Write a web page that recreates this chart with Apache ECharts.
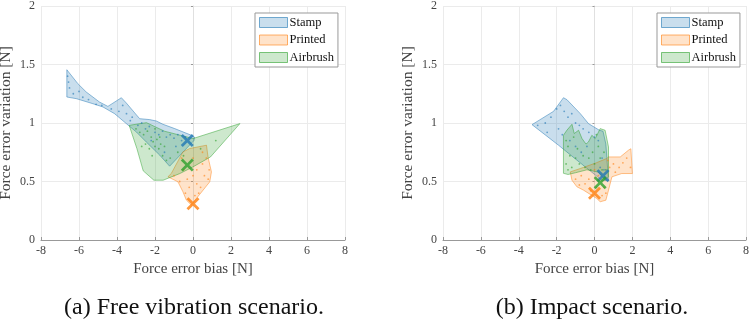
<!DOCTYPE html>
<html>
<head>
<meta charset="utf-8">
<script src="https://cdn.jsdelivr.net/npm/echarts@6/dist/echarts.min.js"></script>
<style>
  html, body { margin: 0; padding: 0; background: #fff; }
  #chart { width: 750px; height: 321px; }
</style>
</head>
<body>
<div id="chart"></div>
<script>
// axis ticks
var xTicks = [-8, -6, -4, -2, 0, 2, 4, 6, 8]
var yTicks = [0, 0.5, 1, 1.5, 2]
var groupNames = ['Stamp', 'Printed', 'Airbrush']

// (a) free vibration: hull outlines
var freeStampHull = [[-6.64, 1.455], [-6.06, 1.336], [-5.62, 1.265], [-4.92, 1.179], [-4.48, 1.142], [-3.77, 1.216],
  [-3.51, 1.171], [-2.81, 1.037], [-2.28, 1.029], [-1.93, 1.017], [-1.58, 0.989], [-0.96, 0.952], [-0.08, 0.895],
  [0.08, 0.88], [0.05, 0.85], [-1.23, 0.631], [-1.75, 0.725], [-2.46, 0.838], [-2.98, 0.923], [-3.51, 0.995],
  [-4.13, 1.08], [-4.74, 1.137], [-5.27, 1.165], [-6.14, 1.208], [-6.64, 1.222]]
var freePrintedHull = [[-1.14, 0.569], [-0.53, 0.753], [-0.17, 0.782], [0.71, 0.81], [0.79, 0.71], [0.97, 0.582],
  [0.88, 0.497], [0.53, 0.426], [0.18, 0.355], [-0.08, 0.298], [-0.35, 0.341], [-0.53, 0.412], [-0.79, 0.497],
  [-1.32, 0.54]]
var freeAirbrushHull = [[-3.36, 0.98], [-2.45, 1.003], [-1.5, 0.93], [0.0, 0.867], [2.47, 0.995], [0.92, 0.71],
  [0.0, 0.625], [-0.69, 0.568], [-1.57, 0.511], [-2.06, 0.511], [-2.62, 0.591], [-2.95, 0.78]]

// (a) free vibration: samples
var freeStampPts = [[-6.5, 1.3], [-6.3, 1.25], [-6.0, 1.27], [-5.8, 1.22], [-5.5, 1.2], [-5.1, 1.16], [-4.8, 1.15],
  [-4.3, 1.12], [-3.9, 1.1], [-3.7, 1.15], [-3.5, 1.08], [-3.3, 1.02], [-3.2, 1.05], [-2.9, 0.98], [-2.7, 1.0],
  [-2.5, 0.95], [-2.3, 0.97], [-2.0, 0.92], [-1.8, 0.9], [-1.6, 0.93], [-1.4, 0.88], [-1.2, 0.9], [-1.0, 0.87],
  [-0.8, 0.9], [-0.6, 0.85], [-0.4, 0.88], [-0.9, 0.8], [-1.5, 0.75], [-2.2, 0.85], [-6.6, 1.4], [-6.55, 1.35]]
var freePrintedPts = [[-1.0, 0.55], [-0.7, 0.5], [-0.5, 0.6], [-0.3, 0.52], [0.0, 0.55], [0.2, 0.6], [0.5, 0.65],
  [0.7, 0.7], [0.6, 0.55], [0.8, 0.52], [0.4, 0.45], [0.3, 0.4], [0.1, 0.38], [-0.2, 0.45], [0.5, 0.75],
  [-0.6, 0.7], [0.0, 0.7], [0.85, 0.6], [0.2, 0.48], [-0.4, 0.4]]
var freeAirbrushPts = [[-3.0, 0.95], [-2.8, 0.92], [-2.6, 0.9], [-2.4, 0.93], [-2.2, 0.88], [-2.1, 0.84], [-2.0, 0.8],
  [-1.9, 0.86], [-1.8, 0.78], [-1.7, 0.82], [-1.6, 0.72], [-2.3, 0.78], [-2.5, 0.82], [-1.4, 0.68], [-1.2, 0.7],
  [-0.8, 0.75], [-0.5, 0.72], [0.4, 0.78], [1.2, 0.85], [-2.7, 0.8], [-2.0, 0.95], [-1.75, 0.88], [-2.15, 0.72],
  [-1.5, 0.8]]

// (a) free vibration: means
var freeMeans = [[-0.3, 0.85], [0.0, 0.31], [-0.3, 0.64]]

// (b) impact: hull outlines
var impactStampHull = [[-3.3, 0.986], [-2.16, 1.1], [-1.64, 1.216], [-1.46, 1.2], [-0.75, 1.08], [-0.32, 0.995],
  [0.26, 0.938], [0.45, 0.93], [0.6, 0.82], [0.74, 0.51], [0.39, 0.51], [-0.49, 0.625], [-1.9, 0.81]]
var impactPrintedHull = [[-1.28, 0.582], [-0.75, 0.611], [0.1, 0.66], [0.65, 0.697], [0.74, 0.71], [1.36, 0.71],
  [1.79, 0.767], [1.92, 0.78], [2.0, 0.568], [1.44, 0.568], [0.92, 0.54], [0.74, 0.426], [0.6, 0.34],
  [0.3, 0.327], [0.12, 0.355], [-0.58, 0.426], [-0.93, 0.455], [-1.19, 0.511]]
var impactAirbrushHull = [[-1.64, 0.895], [-1.46, 0.938], [-1.19, 0.989], [-1.07, 0.91], [-0.84, 0.938],
  [-0.66, 0.867], [-0.45, 0.82], [-0.32, 0.838], [-0.14, 0.895], [0.04, 0.867], [0.3, 0.952], [0.56, 0.938],
  [0.74, 0.795], [0.74, 0.54], [0.56, 0.51], [0.2, 0.58], [-0.4, 0.6], [-1.0, 0.575], [-1.4, 0.56], [-1.64, 0.57]]

// (b) impact: samples
var impactStampPts = [[-3.0, 0.98], [-2.6, 1.0], [-2.3, 1.05], [-2.0, 1.12], [-1.8, 1.15], [-1.6, 1.1], [-1.4, 1.05],
  [-1.2, 1.08], [-1.0, 1.0], [-0.8, 0.98], [-0.6, 0.95], [-0.3, 0.92], [0.0, 0.88], [0.2, 0.85], [-1.9, 0.95],
  [-1.7, 0.9], [-1.3, 0.85], [-1.0, 0.8], [-0.7, 0.75], [-0.4, 0.8], [0.4, 0.7], [0.5, 0.6], [0.3, 0.62],
  [-2.5, 0.92]]
var impactPrintedPts = [[-1.0, 0.52], [-0.7, 0.55], [-0.5, 0.48], [-0.3, 0.52], [0.0, 0.6], [0.2, 0.55], [0.5, 0.45],
  [0.4, 0.38], [0.6, 0.4], [0.8, 0.62], [1.0, 0.65], [1.3, 0.62], [1.5, 0.66], [1.7, 0.7], [1.9, 0.62],
  [0.1, 0.45], [-0.2, 0.42], [0.7, 0.68], [1.1, 0.58], [-0.8, 0.47]]
var impactAirbrushPts = [[-1.5, 0.85], [-1.4, 0.8], [-1.3, 0.72], [-1.5, 0.65], [-1.2, 0.62], [-1.0, 0.7],
  [-0.9, 0.78], [-0.8, 0.65], [-0.6, 0.72], [-0.5, 0.62], [-0.3, 0.7], [-0.1, 0.75], [0.0, 0.65], [0.2, 0.8],
  [0.3, 0.7], [0.5, 0.75], [0.6, 0.6], [0.4, 0.6], [-1.1, 0.88], [-0.2, 0.6], [-1.4, 0.6], [0.1, 0.9]]

// (b) impact: means
var impactMeans = [[0.45, 0.55], [0.0, 0.40], [0.3, 0.49]]

var lineColors = ['#1f77b4', '#ff7f0e', '#2ca02c']
var edgeColors = ['rgba(31,119,180,0.6)', 'rgba(255,127,14,0.6)', 'rgba(44,160,44,0.6)']
var fillColors = ['rgba(31,119,180,0.24)', 'rgba(255,127,14,0.22)', 'rgba(44,160,44,0.24)']
var FONT = 'Liberation Serif'
var crossPath = 'path://M0,1.5 L1.5,0 L5,3.5 L8.5,0 L10,1.5 L6.5,5 L10,8.5 L8.5,10 L5,6.5 L1.5,10 L0,8.5 L3.5,5 Z'

function hullSeries (name, hull, k, idx) {
  return {
    name: name,
    type: 'custom',
    xAxisIndex: idx,
    yAxisIndex: idx,
    data: hull,
    itemStyle: { color: fillColors[k], borderColor: edgeColors[k] },
    renderItem: function (params, api) {
      if (params.dataIndex !== 0) return
      var pts = hull.map(function (p) { return api.coord(p) })
      return {
        type: 'polygon',
        shape: { points: pts },
        style: { fill: fillColors[k], stroke: edgeColors[k], lineWidth: 0.8 }
      }
    },
    z: 2
  }
}

function dotSeries (pts, k, idx) {
  return {
    name: groupNames[k] + ' samples',
    type: 'scatter',
    xAxisIndex: idx,
    yAxisIndex: idx,
    data: pts,
    symbolSize: 1.8,
    itemStyle: { color: lineColors[k], opacity: 0.6 },
    silent: true,
    z: 3
  }
}

function meanSeries (means, k, idx) {
  return {
    name: groupNames[k] + ' mean',
    type: 'scatter',
    xAxisIndex: idx,
    yAxisIndex: idx,
    data: [means[k]],
    symbol: crossPath,
    symbolSize: 13,
    itemStyle: { color: lineColors[k] },
    z: 5
  }
}

function xAxisFor (idx) {
  return {
    type: 'value', gridIndex: idx, min: xTicks[0], max: xTicks[xTicks.length - 1], interval: 2,
    name: 'Force error bias [N]', nameLocation: 'middle', nameGap: 22,
    nameTextStyle: { fontFamily: FONT, fontSize: 15, color: '#444' },
    axisLine: { show: true, onZero: false, lineStyle: { color: '#999', width: 1 } },
    axisTick: { show: true, inside: true, length: 3, lineStyle: { color: '#999' } },
    axisLabel: { fontFamily: FONT, fontSize: 12, color: '#444', margin: 5 },
    splitLine: { show: true, lineStyle: { color: '#ebebeb', width: 1 } }
  }
}

function yAxisFor (idx) {
  return {
    type: 'value', gridIndex: idx, min: yTicks[0], max: yTicks[yTicks.length - 1], interval: 0.5,
    name: 'Force error variation [N]', nameLocation: 'middle', nameGap: 27,
    nameTextStyle: { fontFamily: FONT, fontSize: 15.5, color: '#444' },
    axisLine: { show: true, lineStyle: { color: '#e0e0e0', width: 1 } },
    axisTick: { show: true, inside: false, length: 2, lineStyle: { color: '#999' } },
    axisLabel: { fontFamily: FONT, fontSize: 12, color: '#444', margin: 6 },
    splitLine: { show: true, lineStyle: { color: '#ebebeb', width: 1 } }
  }
}

function legendFor (left) {
  return {
    orient: 'vertical', left: left, top: 13,
    data: groupNames.map(function (n, k) {
      return { name: n, itemStyle: { color: fillColors[k], borderColor: edgeColors[k], borderWidth: 1 } }
    }),
    icon: 'rect', itemWidth: 28, itemHeight: 10, itemGap: 4.5,
    padding: [3, 4, 3, 4],
    borderColor: '#999', borderWidth: 1, backgroundColor: '#fff',
    textStyle: { fontFamily: FONT, fontSize: 12.5, color: '#111', padding: [0, 0, 0, -3] },
    selectedMode: false
  }
}

var series = []
;[[freeStampHull, freePrintedHull, freeAirbrushHull], [impactStampHull, impactPrintedHull, impactAirbrushHull]].forEach(function (hulls, idx) {
  hulls.forEach(function (h, k) { series.push(hullSeries(groupNames[k], h, k, idx)) })
})
;[[freeStampPts, freePrintedPts, freeAirbrushPts], [impactStampPts, impactPrintedPts, impactAirbrushPts]].forEach(function (sets, idx) {
  sets.forEach(function (p, k) { series.push(dotSeries(p, k, idx)) })
})
;[freeMeans, impactMeans].forEach(function (m, idx) {
  [0, 1, 2].forEach(function (k) { series.push(meanSeries(m, k, idx)) })
})

var option = {
  animation: false,
  backgroundColor: '#fff',
  title: [
    { text: '(a) Free vibration scenario.', left: 189, top: 291, textAlign: 'center',
      textStyle: { fontFamily: FONT, fontSize: 24, fontWeight: 'normal', color: '#111' } },
    { text: '(b) Impact scenario.', left: 587, top: 291, textAlign: 'center',
      textStyle: { fontFamily: FONT, fontSize: 24, fontWeight: 'normal', color: '#111' } }
  ],
  legend: [legendFor(255), legendFor(657)],
  grid: [
    { left: 41, right: 405, top: 6, bottom: 81, outerBoundsMode: 'none' },
    { left: 443, right: 4, top: 6, bottom: 81, outerBoundsMode: 'none' }
  ],
  xAxis: [xAxisFor(0), xAxisFor(1)],
  yAxis: [yAxisFor(0), yAxisFor(1)],
  series: series
}

var chart = echarts.init(document.getElementById('chart'))
chart.setOption(option)
</script>
</body>
</html>
